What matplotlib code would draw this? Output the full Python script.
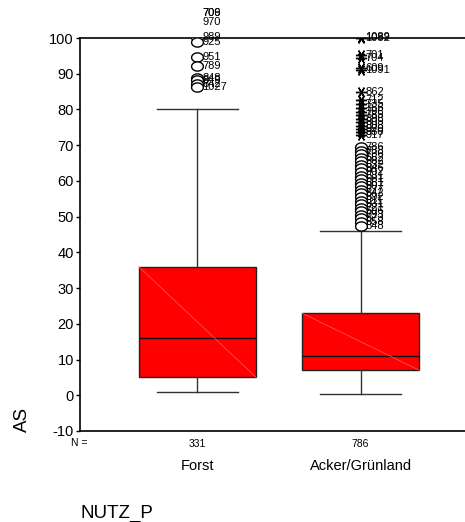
import numpy as np
import matplotlib
matplotlib.use("Agg")
import matplotlib.pyplot as plt
from matplotlib.path import Path

plt.rcParams['font.family'] = ['Liberation Sans', 'DejaVu Sans']
plt.rcParams['axes.unicode_minus'] = False

# Kategorien und Kennwerte
categories = ['Forst', 'Acker/Grünland']
n_values = [331, 786]
whisker_low = [1.0, 0.3]
q1 = [5.0, 7.0]
median = [16.0, 11.0]
q3 = [36.0, 23.0]
whisker_high = [80.0, 46.0]

# Ausreißer (Kreise) und Extremwerte (Sterne) mit Fallnummern
forst_out_vals = [107.0, 107.0, 104.5, 100.3, 99.0, 94.8, 92.3, 88.8, 88.2, 87.2, 86.2]
forst_out_labels = ['706', '709', '970', '989', '925', '951', '789', '848', '849', '842', '1027']

acker_out_vals = [69.5, 68.5, 67.5, 66.5, 65.5, 64.5, 63.5, 62.5, 61.5, 60.5, 59.5,
                  58.5, 57.5, 56.5, 55.5, 54.5, 53.5, 52.5, 51.5, 50.5, 49.5, 48.5, 47.5]
acker_out_labels = ['786', '788', '736', '652', '882', '632', '846', '902', '631', '681',
                    '661', '807', '777', '842', '892', '811', '831', '721', '696', '793',
                    '873', '858', '848']

acker_ext_vals = [100.3, 100.0, 95.2, 94.3, 91.5, 91.0, 85.0, 82.6, 81.5, 80.4, 79.4,
                  78.4, 77.4, 76.4, 75.4, 74.4, 73.6, 72.8]
acker_ext_labels = ['1089', '1082', '701', '704', '609', '1091', '862', '712', '735',
                    '766', '796', '785', '898', '805', '808', '920', '930', '917']

# leicht querovaler Kreis wie bei SPSS
t = np.linspace(0, 2 * np.pi, 41)
ellipse = Path(np.column_stack([np.cos(t), 0.78 * np.sin(t)]))

fig = plt.figure(figsize=(4.65, 5.22), dpi=100)
ax = fig.add_axes([80 / 465, 1 - 431 / 522, 385 / 465, 393 / 522])

stats = []
for i in range(len(categories)):
    stats.append({'whislo': whisker_low[i], 'q1': q1[i], 'med': median[i],
                  'q3': q3[i], 'whishi': whisker_high[i], 'fliers': []})

pos = np.arange(1, len(categories) + 1)
bp = ax.bxp(stats, positions=pos, widths=0.72, capwidths=0.5, patch_artist=True,
            showfliers=False,
            boxprops=dict(facecolor='#ff0000', edgecolor='#222222', linewidth=1.0),
            medianprops=dict(color='#111111', linewidth=1.0),
            whiskerprops=dict(color='#333333', linewidth=1.0),
            capprops=dict(color='#333333', linewidth=1.0))

# feine Diagonale im Kasten (SPSS-Artefakt)
for i, p in enumerate(pos):
    ax.plot([p - 0.36, p + 0.36], [q3[i], q1[i]], color='#ff6060', lw=0.5, zorder=3)

lab_off = 0.03
# Forst
ax.plot([pos[0]] * len(forst_out_vals), forst_out_vals, ls='none', marker=ellipse, ms=8.5,
        mfc='white', mec='black', mew=1.0, zorder=4)
for v, s in zip(forst_out_vals, forst_out_labels):
    ax.text(pos[0] + lab_off, v, s, fontsize=8, va='center', ha='left', clip_on=False)

# Acker/Grünland
ax.plot([pos[1]] * len(acker_out_vals), acker_out_vals, ls='none', marker=ellipse, ms=8.5,
        mfc='white', mec='black', mew=1.0, zorder=4)
for v, s in zip(acker_out_vals, acker_out_labels):
    ax.text(pos[1] + lab_off, v, s, fontsize=8, va='center', ha='left', clip_on=False)
ax.plot([pos[1]] * len(acker_ext_vals), acker_ext_vals, ls='none', marker=(6, 2, 90),
        ms=8, mec='black', mew=1.0, zorder=4)
for v, s in zip(acker_ext_vals, acker_ext_labels):
    ax.text(pos[1] + lab_off, v, s, fontsize=8, va='center', ha='left', clip_on=False)

ax.set_ylim(-10, 100)
ax.set_xlim(0.28, 2.64)
ax.set_yticks(np.arange(-10, 101, 10))
ax.tick_params(axis='y', direction='out', length=3, width=1, labelsize=10.5, pad=1.5)
ax.set_xticks([])
ax.spines['right'].set_visible(False)
for s in ['left', 'bottom', 'top']:
    ax.spines[s].set_linewidth(1.2)

# N = Zeile und Kategorienbeschriftung
fig.text(79 / 465, 1 - 443 / 522, 'N =', fontsize=7.5, va='center', ha='center')
for p, n, c in zip(pos, n_values, categories):
    ax.text(p, -13.5, str(n), fontsize=7.5, ha='center', va='center', clip_on=False)
    ax.text(p, -19.8, c, fontsize=10.5, ha='center', va='center', clip_on=False)

fig.text(22 / 465, 1 - 419 / 522, 'AS', rotation=90, fontsize=13.5, ha='center', va='center')
fig.text(80 / 465, 1 - 513 / 522, 'NUTZ_P', fontsize=13.5, ha='left', va='center')

fig.savefig('out.png', dpi=100)
